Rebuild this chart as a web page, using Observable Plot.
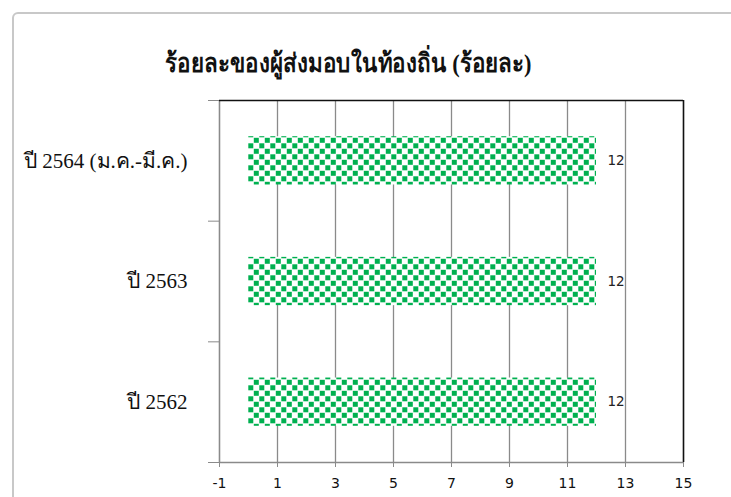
<!DOCTYPE html>
<html>
<head>
<meta charset="utf-8">
<script src="https://cdn.jsdelivr.net/npm/d3@7"></script>
<script src="https://cdn.jsdelivr.net/npm/@observablehq/plot@0.6"></script>
<style>
  html, body { margin: 0; padding: 0; background: #fff; }
  #wrap { position: relative; width: 731px; height: 497px; overflow: hidden; background: #fff; }
  #frame { position: absolute; left: 12px; top: 12px; width: 740px; height: 500px;
           border: 2px solid #c8c8c8; border-radius: 6px; box-sizing: border-box; }
  #title { position: absolute; left: 0; top: 44px; width: 697px; text-align: center;
           font-family: "Liberation Serif", "Noto Sans", serif; font-weight: bold; color: #111;
           font-size: 26px; line-height: 40px; white-space: nowrap;
           transform: scaleX(0.86); transform-origin: 348px 0; }
  #title span { font-size: 26px; }
  #chart { position: absolute; left: 0; top: 0; }
</style>
</head>
<body>
<div id="wrap">
  <div id="frame"></div>
  <div id="chart"></div>
  <div id="title">ร้อยละของผู้ส่งมอบในท้องถิ่น <span>(ร้อยละ)</span></div>
</div>
<script>
const categories = ["ปี 2562", "ปี 2563", "ปี 2564 (ม.ค.-มี.ค.)"];
const values = [12, 12, 12];
const xTicks = [-1, 1, 3, 5, 7, 9, 11, 13, 15];

const data = categories.map((c, i) => ({ category: c, value: values[i], idx: i }));

const plot = Plot.plot({
  width: 731,
  height: 497,
  marginLeft: 219,
  marginRight: 48,
  marginTop: 100,
  marginBottom: 35,
  style: { background: "transparent", overflow: "visible" },
  x: { domain: [-1, 15] },
  y: { domain: [0, categories.length] },
  marks: [
    Plot.gridX(xTicks, { stroke: "#8a8a8a", strokeOpacity: 1, strokeWidth: 1.3 }),
    Plot.rectX(data, {
      x1: 0, x2: "value",
      y1: d => d.idx + 0.3, y2: d => d.idx + 0.7,
      fill: "url(#checker)"
    }),
    Plot.text(data, {
      x: "value", y: d => d.idx + 0.5, text: d => String(d.value),
      textAnchor: "start", dx: 11, fontSize: 13.5, fill: "#222",
      fontFamily: "DejaVu Sans"
    }),
    Plot.ruleX([-1], { stroke: "#8a8a8a", strokeWidth: 1.3 }),
    Plot.ruleX([15], { stroke: "#111", strokeWidth: 1.5 }),
    Plot.ruleY([categories.length], { stroke: "#111", strokeWidth: 1.5 }),
    Plot.ruleY([0], { stroke: "#8a8a8a", strokeWidth: 1.3 }),
    Plot.axisX({
      ticks: xTicks, tickSize: 5, tickPadding: 11, stroke: "#8a8a8a",
      tickFormat: d => String(d),
      fontSize: 14, fontFamily: "DejaVu Sans", fill: "#111", label: null
    }),
    Plot.axisY({
      ticks: d3.range(categories.length + 1), tickSize: 11, tickFormat: () => "",
      stroke: "#8a8a8a", label: null
    }),
    Plot.axisY({
      ticks: categories.map((c, i) => i + 0.5),
      tickFormat: v => categories[Math.floor(v)],
      tickSize: 0, tickPadding: 32, fontSize: 21,
      fontFamily: "Liberation Serif, serif", fill: "#111", label: null
    })
  ]
});

// checkerboard pattern
const svg = d3.select(plot);
const x0 = plot.scale("x").apply(0);
const defs = svg.insert("defs", ":first-child");
const pat = defs.append("pattern")
  .attr("id", "checker").attr("patternUnits", "userSpaceOnUse")
  .attr("x", x0).attr("y", 0).attr("width", 11).attr("height", 11);
pat.append("rect").attr("width", 11).attr("height", 11).attr("fill", "#fff");
pat.append("rect").attr("x", 0.3).attr("y", 0.3).attr("width", 5).attr("height", 5).attr("fill", "#00b050");
pat.append("rect").attr("x", 5.8).attr("y", 5.8).attr("width", 5).attr("height", 5).attr("fill", "#00b050");

document.getElementById("chart").appendChild(plot);
</script>
</body>
</html>
